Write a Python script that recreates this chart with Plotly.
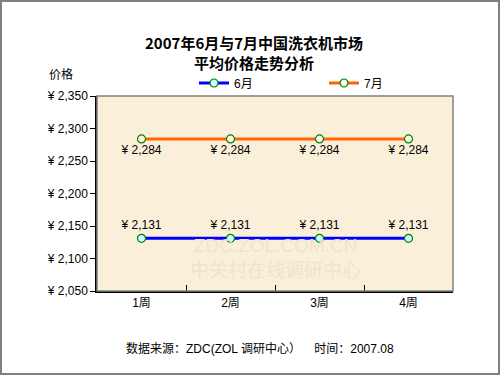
import plotly.graph_objects as go

weeks = ["1周", "2周", "3周", "4周"]
june = [2131, 2131, 2131, 2131]
july = [2284, 2284, 2284, 2284]
y_ticks = [2050, 2100, 2150, 2200, 2250, 2300, 2350]

FONT = "Liberation Sans, Arial, Noto Sans CJK SC"
CJK = "Noto Sans CJK SC"
W, H = 500, 375
L, R, T, B = 97, 47, 96, 84
PW, PH = W - L - R, H - T - B

def px(x):
    return (x - L) / PW

def py(y):
    return (H - B - y) / PH

fig = go.Figure()
fig.add_trace(go.Scatter(
    x=weeks, y=june, name="6月", mode="lines+markers+text", legend="legend",
    line=dict(color="#0000FF", width=3),
    marker=dict(symbol="circle", size=8, color="#CCFFFF", line=dict(color="#008000", width=1.2)),
    text=[f"¥ {v:,}" for v in june], textposition="top center",
    textfont=dict(family=FONT, size=12, color="black"),
))
fig.add_trace(go.Scatter(
    x=weeks, y=july, name="7月", mode="lines+markers+text", legend="legend2",
    line=dict(color="#FF6600", width=3),
    marker=dict(symbol="circle", size=8, color="#FFF8E8", line=dict(color="#008000", width=1.2)),
    text=[f"¥ {v:,}" for v in july], textposition="bottom center",
    textfont=dict(family=FONT, size=12, color="black"),
))

def ann(text, x, y, size, family=FONT, color="black", bold=False):
    return dict(text=text, x=px(x), y=py(y), xref="paper", yref="paper",
                xanchor="center", yanchor="middle", showarrow=False,
                font=dict(family=family, size=size, color=color,
                          weight="bold" if bold else "normal"))

annotations = [
    ann("ZDC.ZOL.COM.CN<br>中关村在线调研中心", 275, 258, 19, color="#EDE4CF"),
    ann("2007年6月与7月中国洗衣机市场<br>平均价格走势分析", 254, 53, 15, family=CJK, bold=True),
    ann("价格", 61, 73, 12, family=CJK),
    ann("数据来源：ZDC(ZOL 调研中心）    时间：2007.08", 260, 348, 12),
]

shapes = [
    dict(type="rect", xref="paper", yref="paper", x0=px(1), x1=px(499), y0=py(374), y1=py(1),
         line=dict(color="#808080", width=2), fillcolor="rgba(0,0,0,0)", layer="below"),
    dict(type="rect", xref="paper", yref="paper", x0=0, x1=1, y0=0, y1=1,
         line=dict(color="#808080", width=1.5), fillcolor="rgba(0,0,0,0)"),
]

leg_common = dict(orientation="h", xanchor="left", yanchor="middle", bgcolor="rgba(0,0,0,0)",
                  font=dict(family=FONT, size=12, color="black"), itemwidth=30)

fig.update_layout(
    width=W, height=H,
    margin=dict(l=L, r=R, t=T, b=B, autoexpand=False),
    paper_bgcolor="white", plot_bgcolor="#FAF0DA",
    showlegend=True,
    legend=dict(x=px(194), y=py(83), **leg_common),
    legend2=dict(x=px(324), y=py(83), **leg_common),
    annotations=annotations,
    shapes=shapes,
)
fig.update_xaxes(
    type="category", range=[-0.5, 3.5], tickson="boundaries", ticks="inside", ticklen=6,
    tickcolor="black", showline=True, linecolor="black", linewidth=1.5, showgrid=False,
    tickfont=dict(family=FONT, size=12, color="black"), zeroline=False, automargin=False,
)
fig.update_yaxes(
    range=[2050, 2350], tickvals=y_ticks, ticktext=[f"¥ {v:,}" for v in y_ticks],
    ticks="outside", ticklen=5, tickcolor="black", showline=True, linecolor="black",
    linewidth=1.5, showgrid=False, zeroline=False, automargin=False,
    tickfont=dict(family=FONT, size=12, color="black"),
)

fig.write_html("out.html", config={"displayModeBar": False},
               post_script="document.body.style.margin='0';")
